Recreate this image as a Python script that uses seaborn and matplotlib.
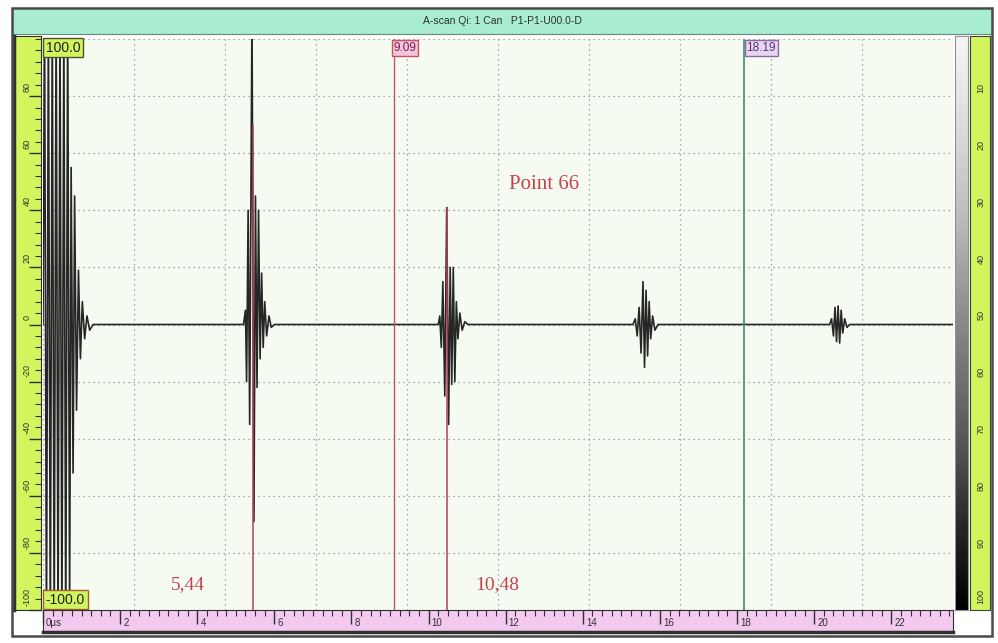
import numpy as np
import pandas as pd
import seaborn as sns
import matplotlib.pyplot as plt
from matplotlib.ticker import MultipleLocator
from matplotlib.patches import Rectangle

# A-scan: time in us, amplitude in % of screen height
pulse_t = [0.00, 0.04, 0.09, 0.14, 0.19, 0.24, 0.29, 0.34, 0.39, 0.44, 0.49, 0.54, 0.59, 0.64,
           0.69, 0.73, 0.78, 0.82, 0.87, 0.92, 0.97, 1.02, 1.08, 1.14, 1.21, 1.30]
pulse_a = [0, 110, -110, 110, -110, 110, -110, 110, -110, 110, -110, 110, -110, 110,
           -100, 55, -52, 45, -30, 19, -12, 8, -5, 3, -2, 0]

echo1_t = [5.20, 5.25, 5.28, 5.32, 5.36, 5.42, 5.47, 5.51, 5.55, 5.59, 5.63, 5.67, 5.71,
           5.75, 5.80, 5.86, 5.92, 6.00]
echo1_a = [0, 5, -20, 40, -35, 110, -69, 45, -22, 40, -12, 18, -8, 8, -4, 3, -1, 0]

echo2_t = [10.25, 10.29, 10.33, 10.37, 10.42, 10.47, 10.52, 10.56, 10.60, 10.64, 10.68,
           10.72, 10.76, 10.81, 10.87, 10.94, 11.02]
echo2_a = [0, 3, -8, 15, -25, 41, -35, 20, -21, 20, -20, 8, -5, 4, -2, 1, 0]

echo3_t = [15.30, 15.36, 15.41, 15.46, 15.51, 15.56, 15.60, 15.64, 15.68, 15.72, 15.76,
           15.81, 15.87, 15.95]
echo3_a = [0, 2, -4, 6, -10, 15, -15, 12, -11, 8, -5, 3, -2, 0]

echo4_t = [20.40, 20.45, 20.50, 20.54, 20.58, 20.62, 20.66, 20.70, 20.74, 20.79, 20.85, 20.92]
echo4_a = [0, 2, -4, 6, -6, 6.5, -6.5, 5, -3, 2, -1, 0]

end_t = [23.6]
end_a = [0]

gate_pos = [9.09, 18.19]
gate_labels = ['9.09', '18.19']
peak_t = [5.44, 10.48]
peak_amp = [70, 41]
peak_labels = ['5,44', '10,48']

left_ruler_vals = [80, 60, 40, 20, 0, -20, -40, -60, -80, -100]
right_ruler_vals = [10, 20, 30, 40, 50, 60, 70, 80, 90, 100]
x_tick_vals = [0, 2, 4, 6, 8, 10, 12, 14, 16, 18, 20, 22]
x_tick_labels = ['0\u03bcs', '2', '4', '6', '8', '10', '12', '14', '16', '18', '20', '22']

title = 'A-scan Qi: 1 Can   P1-P1-U00.0-D'

XMAX = 23.6

df = pd.DataFrame({
    't': pulse_t + echo1_t + echo2_t + echo3_t + echo4_t + end_t,
    'amp': pulse_a + echo1_a + echo2_a + echo3_a + echo4_a + end_a,
})

sns.set_style('white')
plt.rcParams['font.family'] = ['Liberation Sans', 'DejaVu Sans']

W, H = 998, 643
fig = plt.figure(figsize=(W / 100, H / 100), dpi=100)


def px_axes(x0, y0, x1, y1):
    return fig.add_axes([x0 / W, 1 - y1 / H, (x1 - x0) / W, (y1 - y0) / H])


yellow = '#d2f55e'
pink = '#f3c9ef'

# title bar
tb = px_axes(12, 8, 992, 34)
tb.set_facecolor('#a8ecd2')
tb.set_xticks([])
tb.set_yticks([])
for s in tb.spines.values():
    s.set_color('#6a8a7a')
tb.text(0.5, 0.5, title, ha='center', va='center', fontsize=7.5, color='#303030',
        transform=tb.transAxes)

# main A-scan
ax = px_axes(43, 39, 953, 610)
ax.set_facecolor('#f6fbf2')
sns.lineplot(data=df, x='t', y='amp', ax=ax, color='#262626', lw=1.2,
             sort=False, estimator=None)
ax.set_xlim(0, XMAX)
ax.set_ylim(-100, 100)
ax.set_xticks(np.linspace(0, XMAX, 11))
ax.set_yticks(np.arange(-100, 101, 20))
ax.grid(True, color='#8c8c8c', lw=0.9, ls=(0, (1, 3)))
ax.tick_params(length=0, labelbottom=False, labelleft=False)
ax.set_xlabel('')
ax.set_ylabel('')
for s in ax.spines.values():
    s.set_visible(False)

# gates
ax.axvline(gate_pos[0], color='#c4545e', lw=1.0)
ax.axvline(gate_pos[1], color='#3f8f6c', lw=1.2)
ax.text(gate_pos[0], 99, gate_labels[0], ha='left', va='top', fontsize=8.5, color='#7a1f4a',
        bbox=dict(boxstyle='square,pad=0.15', fc='#f3c3e0', ec='#c4545e', lw=1))
ax.text(gate_pos[1] + 0.05, 99, gate_labels[1], ha='left', va='top', fontsize=8.5,
        color='#5a3070',
        bbox=dict(boxstyle='square,pad=0.15', fc='#e6d6f2', ec='#8a6aa0', lw=1))

# peak markers
ax.vlines(peak_t, -100, peak_amp, color='#b04456', lw=1.3, alpha=0.85)
ax.text(3.76, -91, peak_labels[0], ha='center', va='center', fontsize=14,
        family='Liberation Serif', color='#c8404e')
ax.text(11.78, -91, peak_labels[1], ha='center', va='center', fontsize=14,
        family='Liberation Serif', color='#c8404e')
ax.text(13.0, 49, 'Point 66', ha='center', va='center', fontsize=15,
        family='Liberation Serif', color='#c8404e')

# amplitude range boxes
ax.text(0.003, 0.997, '100.0', transform=ax.transAxes, ha='left', va='top', fontsize=10,
        color='#202020', bbox=dict(boxstyle='square,pad=0.2', fc=yellow, ec='#505030', lw=1))
ax.text(0.003, 0.006, '-100.0', transform=ax.transAxes, ha='left', va='bottom', fontsize=10,
        color='#202020', bbox=dict(boxstyle='square,pad=0.2', fc=yellow, ec='#a06030', lw=1))

# left ruler
lr = px_axes(14, 36, 41, 610)
lr.set_facecolor(yellow)
lr.set_ylim(-100, 100 * (1 + 6 / 571))
lr.set_xlim(0, 1)
lr.set_xticks([])
lr.yaxis.tick_right()
lr.set_yticks(left_ruler_vals)
lr.yaxis.set_minor_locator(MultipleLocator(4))
lr.tick_params(axis='y', which='major', direction='in', length=9, width=1, color='#303030',
               labelright=False)
lr.tick_params(axis='y', which='minor', direction='in', length=4, width=0.8, color='#303030')
for v in left_ruler_vals:
    lr.text(0.5, v + 1.5, str(v), rotation=90, ha='center', va='bottom', fontsize=6.5,
            color='#303030')
for s in lr.spines.values():
    s.set_color('#303030')
lr.spines['left'].set_linewidth(2.5)

# right gradient bar and ruler
gb = px_axes(955, 36, 968, 610)
gb.imshow(np.linspace(0, 1, 256).reshape(-1, 1), aspect='auto', cmap='Greys',
          vmin=-0.1, vmax=1.0)
gb.set_xticks([])
gb.set_yticks([])
for s in gb.spines.values():
    s.set_color('#909090')

rr = px_axes(970, 36, 990, 610)
rr.set_facecolor(yellow)
rr.set_ylim(100, -100 * 6 / 571)
rr.set_xlim(0, 1)
rr.set_xticks([])
rr.set_yticks(right_ruler_vals)
rr.yaxis.set_minor_locator(MultipleLocator(2))
rr.tick_params(axis='y', which='major', direction='in', length=8, width=1, color='#303030',
               labelleft=False)
rr.tick_params(axis='y', which='minor', direction='in', length=3, width=0.8, color='#303030')
for v in right_ruler_vals:
    rr.text(0.55, v - 1, str(v), rotation=90, ha='center', va='bottom', fontsize=6.5,
            color='#303030')
for s in rr.spines.values():
    s.set_color('#404040')

# bottom time ruler
br = px_axes(43, 610, 953, 632)
br.set_facecolor(pink)
br.set_xlim(0, XMAX)
br.set_ylim(0, 1)
br.set_yticks([])
br.xaxis.tick_top()
br.set_xticks(x_tick_vals)
br.xaxis.set_minor_locator(MultipleLocator(0.25))
br.tick_params(axis='x', which='major', direction='in', length=10, width=1, color='#303030',
               labeltop=False)
br.tick_params(axis='x', which='minor', direction='in', length=4, width=0.8, color='#303030')
for v, lab in zip(x_tick_vals, x_tick_labels):
    br.text(v + 0.08, 0.42, lab, ha='left', va='center', fontsize=7, color='#303030')
for s in br.spines.values():
    s.set_color('#303030')
br.spines['bottom'].set_linewidth(2.5)

# outer frame
fig.patches.append(Rectangle((12 / W, 1 - 636 / H), 980 / W, 628 / H, transform=fig.transFigure,
                             fill=False, ec='#4a4a4a', lw=1.8))

fig.savefig('out.png', dpi=100)
